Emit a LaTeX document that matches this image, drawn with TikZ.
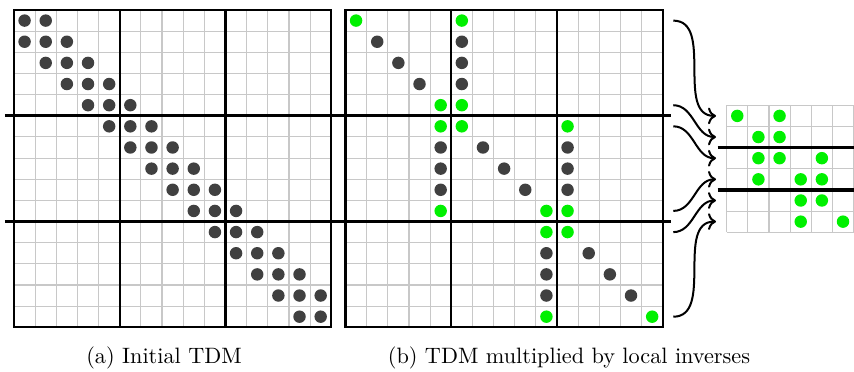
\documentclass[tikz,border=0pt]{standalone}
\usetikzlibrary{arrows.meta}
\definecolor{dotdark}{RGB}{64,64,64}
\definecolor{dotgreen}{RGB}{0,240,0}
\definecolor{gridgray}{RGB}{200,200,200}
\tikzset{
  gridline/.style={draw=gridgray,line width=0.5pt},
  blockline/.style={draw=black,line width=1pt},
  rowline/.style={draw=black,line width=1.45pt},
  mapper/.style={draw=black,line width=0.9pt,->},
  captext/.style={anchor=base,inner sep=0pt,font=\normalsize}
}
\newcommand\tdmdot[4]{\fill[#4] (#1+#3*21.15-10.575,#2+0*21.15-10.575+0) ++(0,0) circle[radius=2.8pt];}
\newcommand\tdmdotrc[5]{\fill[#5] ({#1+#4*21.15-10.575},{#2+#3*21.15-10.575}) circle[radius=2.8pt];}
\begin{document}
\begin{tikzpicture}[x=0.4494pt,y=-0.4494pt]
\useasboundingbox (0,0) rectangle (854,371);
% ---------- left grid (a) ----------
\foreach \i in {1,...,14} {
  \draw[gridline] ({14+\i*21.15},10) -- ({14+\i*21.15},327.25);
  \draw[gridline] (14,{10+\i*21.15}) -- (331.25,{10+\i*21.15});
}
\draw[blockline] (119.75,10) -- (119.75,327.25);
\draw[blockline] (225.5,10) -- (225.5,327.25);
\draw[blockline] (14,10) rectangle (331.25,327.25);
\foreach \r in {1,...,15} {
  \foreach \d in {-1,0,1} {
    \pgfmathtruncatemacro\cc{\r+\d}
    \ifnum\cc>0 \ifnum\cc<16
      \tdmdotrc{14}{10}{\r}{\cc}{dotdark}
    \fi\fi
  }
}
% ---------- middle grid (b) ----------
\foreach \i in {1,...,14} {
  \draw[gridline] ({345.5+\i*21.15},10) -- ({345.5+\i*21.15},327.25);
  \draw[gridline] (345.5,{10+\i*21.15}) -- (662.75,{10+\i*21.15});
}
\draw[blockline] (451.25,10) -- (451.25,327.25);
\draw[blockline] (557,10) -- (557,327.25);
\draw[blockline] (345.5,10) rectangle (662.75,327.25);
\foreach \r/\c in {1/1,1/6,5/5,5/6,6/5,6/6,6/11,10/5,10/10,10/11,11/10,11/11,15/10,15/15}
  \tdmdotrc{345.5}{10}{\r}{\c}{dotgreen};
\foreach \r/\c in {2/2,2/6,3/3,3/6,4/4,4/6,7/5,7/7,7/11,8/5,8/8,8/11,9/5,9/9,9/11,12/10,12/12,13/10,13/13,14/10,14/14}
  \tdmdotrc{345.5}{10}{\r}{\c}{dotdark};
% block row separators across both grids
\draw[rowline] (5,115.75) -- (671,115.75);
\draw[rowline] (5,221.5) -- (671,221.5);
% ---------- small grid ----------
\foreach \i in {0,...,6} {
  \draw[gridline] ({726.7+\i*21.15},105.3) -- ({726.7+\i*21.15},232.2);
  \draw[gridline] (726.7,{105.3+\i*21.15}) -- (853.6,{105.3+\i*21.15});
}
\draw[rowline] (717.7,147.6) -- (854,147.6);
\draw[rowline] (717.7,189.9) -- (854,189.9);
\foreach \r/\c in {1/1,1/3,2/2,2/3,3/2,3/3,3/5,4/2,4/4,4/5,5/4,5/5,6/4,6/6}
  \tdmdotrc{726.7}{105.3}{\r}{\c}{dotgreen};
% ---------- arrows ----------
\coordinate (s1) at (673.3,20.6);
\coordinate (s2) at (673.3,105.2);
\coordinate (s3) at (673.3,126.3);
\coordinate (s4) at (673.3,210.9);
\coordinate (s5) at (673.3,232.1);
\coordinate (s6) at (673.3,316.7);
\coordinate (e1) at (716,115.9);
\coordinate (e2) at (716,137.0);
\coordinate (e3) at (716,158.2);
\coordinate (e4) at (716,179.3);
\coordinate (e5) at (716,200.5);
\coordinate (e6) at (716,221.6);
\foreach \k in {1,...,6}
  \draw[mapper] (s\k) to[out=0,in=180] (e\k);
% ---------- captions ----------
\node[captext] (capa) at (164,363) {(a) Initial TDM};
\node[captext] (capb) at (569,363) {(b) TDM multiplied by local inverses};
\end{tikzpicture}
\end{document}
